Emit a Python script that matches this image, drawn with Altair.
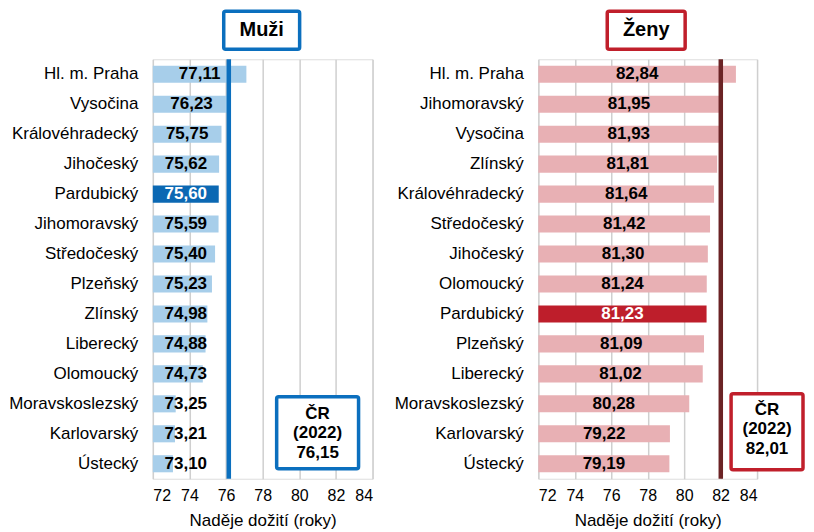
import altair as alt
import pandas as pd

# ---------------- data ----------------
men_regions = ["Hl. m. Praha", "Vysočina", "Královéhradecký", "Jihočeský", "Pardubický",
               "Jihomoravský", "Středočeský", "Plzeňský", "Zlínský", "Liberecký",
               "Olomoucký", "Moravskoslezský", "Karlovarský", "Ústecký"]
men_values = [77.11, 76.23, 75.75, 75.62, 75.60, 75.59, 75.40, 75.23, 74.98, 74.88,
              74.73, 73.25, 73.21, 73.10]

women_regions = ["Hl. m. Praha", "Jihomoravský", "Vysočina", "Zlínský", "Královéhradecký",
                 "Středočeský", "Jihočeský", "Olomoucký", "Pardubický", "Plzeňský",
                 "Liberecký", "Moravskoslezský", "Karlovarský", "Ústecký"]
women_values = [82.84, 81.95, 81.93, 81.81, 81.64, 81.42, 81.30, 81.24, 81.23, 81.09,
                81.02, 80.28, 79.22, 79.19]

cr_men = 76.15
cr_women = 82.01
cr_year = "(2022)"
highlight = "Pardubický"
x_ticks = [72, 74, 76, 78, 80, 82, 84]
x_domain = [72, 84]
x_title = "Naděje dožití (roky)"
panel_titles = ["Muži", "Ženy"]

FONT = "Liberation Sans"


def fmt(v):
    return f"{v:.2f}".replace(".", ",")


def panel(regions, values, cr, title, colors, label_min, width, box, tbox):
    light, dark, rule_col, box_col = colors
    df = pd.DataFrame({"region": regions, "value": values})
    df["label"] = df["value"].map(fmt)
    df["hl"] = ["yes" if r == highlight else "no" for r in regions]
    base_v = x_domain[0]
    df["lx"] = [max((base_v + v) / 2, label_min) for v in values]

    xscale = alt.Scale(domain=x_domain, nice=False, zero=False)
    xaxis = alt.Axis(values=x_ticks, tickCount=len(x_ticks), title=x_title, grid=True,
                     gridColor="#CFCFCF", gridWidth=1.5, domain=False,
                     ticks=False, labelFontSize=16, labelFont=FONT,
                     labelColor="#000000", labelPadding=9,
                     labelOverlap=False,
                     titleFontSize=17, titleFont=FONT,
                     titleFontWeight="normal", titleColor="#000000",
                     titlePadding=9)
    yaxis = alt.Axis(ticks=False, domain=False, labelFontSize=17, labelPadding=15,
                     labelColor="#000000", labelFont=FONT, grid=False)
    yscale = alt.Scale(paddingInner=0.43, paddingOuter=0.215)
    yenc = alt.Y("region:N", sort=regions, title=None, scale=yscale, axis=yaxis)
    is_hl = alt.datum.hl == "yes"

    bars = alt.Chart(df).mark_bar().encode(
        x=alt.X("value:Q", scale=xscale, axis=xaxis, title=x_title),
        x2=alt.datum(base_v),
        y=yenc,
        color=alt.condition(is_hl, alt.value(dark), alt.value(light)),
    )

    rule = alt.Chart(pd.DataFrame({"cr": [cr]})).mark_rule(
        color=rule_col, strokeWidth=4.5
    ).encode(x=alt.X("cr:Q", scale=xscale, axis=xaxis, title=x_title))

    labels = alt.Chart(df).mark_text(
        font=FONT, fontSize=17, fontWeight="bold", align="center", baseline="middle"
    ).encode(
        x=alt.X("lx:Q", scale=xscale, axis=xaxis, title=x_title),
        y=yenc,
        text="label:N",
        color=alt.condition(is_hl, alt.value("#ffffff"), alt.value("#000000")),
    )

    one = pd.DataFrame({"t": [title], "c": ["ČR\n" + cr_year + "\n" + fmt(cr)]})

    bx0, bx1, by0, by1, bcx, bcy = box
    cr_rect = alt.Chart(one).mark_rect(
        fill="white", stroke=box_col, strokeWidth=3.5, cornerRadius=2
    ).encode(x=alt.value(bx0), x2=alt.value(bx1), y=alt.value(by0), y2=alt.value(by1))
    cr_text = alt.Chart(one).mark_text(
        font=FONT, fontSize=17, fontWeight="bold", align="center", baseline="middle",
        lineBreak="\n", lineHeight=19.5, color="#000000"
    ).encode(x=alt.value(bcx), y=alt.value(bcy), text="c:N")

    tx0, tx1, ty0, ty1, tcx, tcy = tbox
    t_rect = alt.Chart(one).mark_rect(
        fill="white", stroke=box_col, strokeWidth=3.5, cornerRadius=2
    ).encode(x=alt.value(tx0), x2=alt.value(tx1), y=alt.value(ty0), y2=alt.value(ty1))
    t_text = alt.Chart(one).mark_text(
        font=FONT, fontSize=20, fontWeight="bold", align="center", baseline="middle",
        color="#000000"
    ).encode(x=alt.value(tcx), y=alt.value(tcy), text="t:N")

    return alt.layer(bars, rule, labels, cr_rect, cr_text, t_rect, t_text).properties(
        width=width, height=420
    )


left = panel(men_regions, men_values, cr_men, panel_titles[0],
             ("#A7CEEA", "#0B68B3", "#0B6FBE", "#0B6FBE"), 73.8, 220,
             (124, 206, 338, 410, 165, 355), (71, 147, -48, -10, 109, -29))
right = panel(women_regions, women_values, cr_women, panel_titles[1],
              ("#E8B0B4", "#BE1E2B", "#6B2325", "#C01F2B"), 0, 219,
              (193, 265, 335, 411, 229, 351), (69, 147, -48, -10, 108, -29))

chart = alt.hconcat(left, right, spacing=20).properties(
    padding=0
).configure_view(
    stroke="#3A3A3A", strokeWidth=1.5
).configure(background="white")

chart.save("out.html", embed_options={"renderer": "svg", "actions": False})
